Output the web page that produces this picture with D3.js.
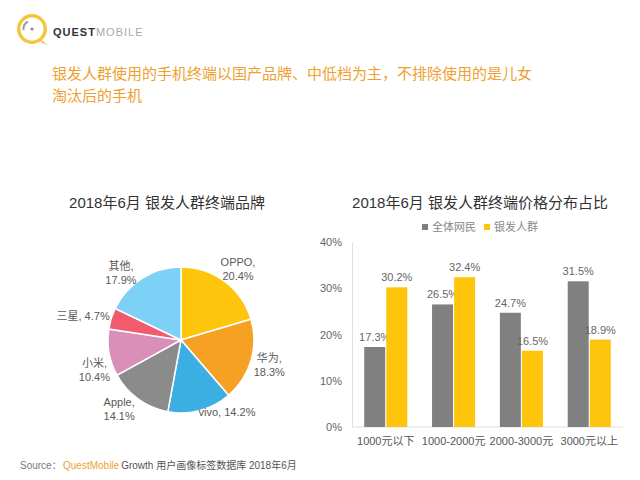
<!DOCTYPE html>
<html><head><meta charset="utf-8">
<script src="https://cdn.jsdelivr.net/npm/d3@7/dist/d3.min.js"></script>
<style>
html,body{margin:0;padding:0;background:#fff;}
svg{display:block;font-family:"Liberation Sans","Noto Sans CJK SC",sans-serif;}
</style></head>
<body>
<svg id="c" width="640" height="480"></svg>
<script>
// ---- data ----
const brands = ["OPPO","华为","vivo","Apple","小米","三星","其他"];
const brandShare = [20.4,18.3,14.2,14.1,10.4,4.7,17.9];
const priceCats = ["1000元以下","1000-2000元","2000-3000元","3000元以上"];
const seriesNames = ["全体网民","银发人群"];
const allUsers = [17.3,26.5,24.7,31.5];
const silverUsers = [30.2,32.4,16.5,18.9];
const yTicks = [0,10,20,30,40];

const brandColors = ["#FFC40C","#F7A124","#3BAEE2","#8B8B8B","#D98FB8","#F25A6D","#7DD0F6"];
const seriesColors = ["#808080","#FFC40C"];

const svg = d3.select("#c");

// ---- header logo ----
const logo = svg.append("g").attr("transform","translate(32,29)");
logo.append("path")
  .attr("d", d3.arc()({innerRadius:11.5,outerRadius:15,startAngle:0,endAngle:2*Math.PI}))
  .attr("fill","#F5C540");
logo.append("path").attr("d","M8,10 L16,16 L10,14 Z").attr("fill","#F5C540");
logo.append("path")
  .attr("d", d3.arc()({innerRadius:7.5,outerRadius:9.5,startAngle:-1.7,endAngle:-0.5}))
  .attr("fill","#9a9a9a");
logo.append("circle").attr("r",1.6).attr("fill","#888");
const lt = svg.append("text").attr("x",53).attr("y",36).attr("font-size",11).attr("letter-spacing",1);
lt.append("tspan").text("QUEST").attr("fill","#333").attr("font-weight","bold");
lt.append("tspan").text("MOBILE").attr("fill","#aaa");

// ---- headline ----
const headLines = ["银发人群使用的手机终端以国产品牌、中低档为主，不排除使用的是儿女","淘汰后的手机"];
headLines.forEach((s,i)=>{
  svg.append("text").attr("fill","#F0A030").attr("font-size",15)
    .attr("font-family","Noto Sans CJK SC")
    .attr("x",52).attr("y",79+i*22).text(s);
});

// ---- pie ----
svg.append("text").attr("x",167).attr("y",208).attr("text-anchor","middle")
  .attr("font-size",15).attr("fill","#333").text("2018年6月 银发人群终端品牌");

const cx = 181, cy = 340, R = 73;
const pieData = d3.pie().sort(null).value(d => d.v)(brands.map((b,i)=>({name:b,v:brandShare[i],c:brandColors[i]})));
const arc = d3.arc().innerRadius(0).outerRadius(R);
const labelArc = d3.arc().innerRadius(92).outerRadius(92);
const pg = svg.append("g").attr("transform",`translate(${cx},${cy})`);
pg.selectAll("path").data(pieData).join("path")
  .attr("d",arc).attr("fill",d=>d.data.c).attr("stroke","#fff").attr("stroke-width",1.5);

const singleLine = {"vivo":true,"三星":true};
const nudge = {"OPPO":[2,3],"华为":[0,-1],"vivo":[22,-17],"Apple":[-8,-6],"小米":[4,14],"三星":[-10,3],"其他":[-11,11]};
pieData.forEach(d=>{
  const [x,y] = labelArc.centroid(d);
  const n = nudge[d.data.name]||[0,0];
  const t = pg.append("text").attr("text-anchor","middle").attr("font-size",11).attr("fill","#595959");
  const lx = x+n[0], ly = y+n[1];
  if (singleLine[d.data.name]) {
    t.append("tspan").attr("x",lx).attr("y",ly+4).text(`${d.data.name}, ${d.data.v}%`);
  } else {
    t.append("tspan").attr("x",lx).attr("y",ly-3).text(`${d.data.name},`);
    t.append("tspan").attr("x",lx).attr("y",ly+11).text(`${d.data.v}%`);
  }
});

// ---- bar chart ----
svg.append("text").attr("x",480).attr("y",208).attr("text-anchor","middle")
  .attr("font-size",15).attr("fill","#333").text("2018年6月 银发人群终端价格分布占比");

// legend
const lg = svg.append("g");
[[425,0],[487,1]].forEach(([lx,i])=>{
  lg.append("rect").attr("x",lx-3).attr("y",224).attr("width",6).attr("height",6).attr("fill",seriesColors[i]);
  lg.append("text").attr("x",lx+7).attr("y",231).attr("font-size",11).attr("fill","#888").text(seriesNames[i]);
});

const x0 = d3.scaleBand().domain(priceCats).range([352,623]).paddingInner(0.365).paddingOuter(0.18);
const x1 = d3.scaleBand().domain([0,1]).range([0,x0.bandwidth()]).paddingInner(0.05);
const y = d3.scaleLinear().domain([0,40]).range([427,242]);

// axes
const yAxis = svg.append("g").attr("transform","translate(352,0)")
  .call(d3.axisLeft(y).tickValues(yTicks).tickFormat(d=>d+"%").tickSize(0).tickPadding(10));
yAxis.select(".domain").attr("stroke","#e0e0e0");
yAxis.selectAll("text").attr("font-size",11).attr("fill","#666").attr("font-family","Liberation Sans");

const xAxis = svg.append("g").attr("transform","translate(0,427)")
  .call(d3.axisBottom(x0).tickSize(0).tickPadding(10));
xAxis.select(".domain").attr("stroke","#e0e0e0").attr("d","M352,0H623");
xAxis.selectAll("text").attr("font-size",11).attr("fill","#555").attr("font-family","Liberation Sans, Noto Sans CJK SC");

const series = [allUsers, silverUsers];
series.forEach((vals,si)=>{
  const g = svg.append("g");
  g.selectAll("rect").data(vals).join("rect")
    .attr("x",(d,i)=>x0(priceCats[i])+x1(si))
    .attr("width",x1.bandwidth())
    .attr("y",d=>y(d)).attr("height",d=>y(0)-y(d))
    .attr("fill",seriesColors[si]);
  g.selectAll("text").data(vals).join("text")
    .attr("x",(d,i)=>x0(priceCats[i])+x1(si)+x1.bandwidth()/2)
    .attr("y",d=>y(d)-6)
    .attr("text-anchor","middle").attr("font-size",11).attr("fill","#666")
    .text(d=>d.toFixed(1)+"%");
});

// ---- source ----
const src = svg.append("text").attr("x",20).attr("y",469).attr("font-size",10).attr("font-family","Liberation Sans, Noto Sans CJK SC");
src.append("tspan").attr("fill","#777").text("Source：");
src.append("tspan").attr("x",63).attr("fill","#F0A030").text("QuestMobile");
src.append("tspan").attr("dx",2).attr("fill","#555").text("Growth 用户画像标签数据库 2018年6月");
</script>
</body></html>
